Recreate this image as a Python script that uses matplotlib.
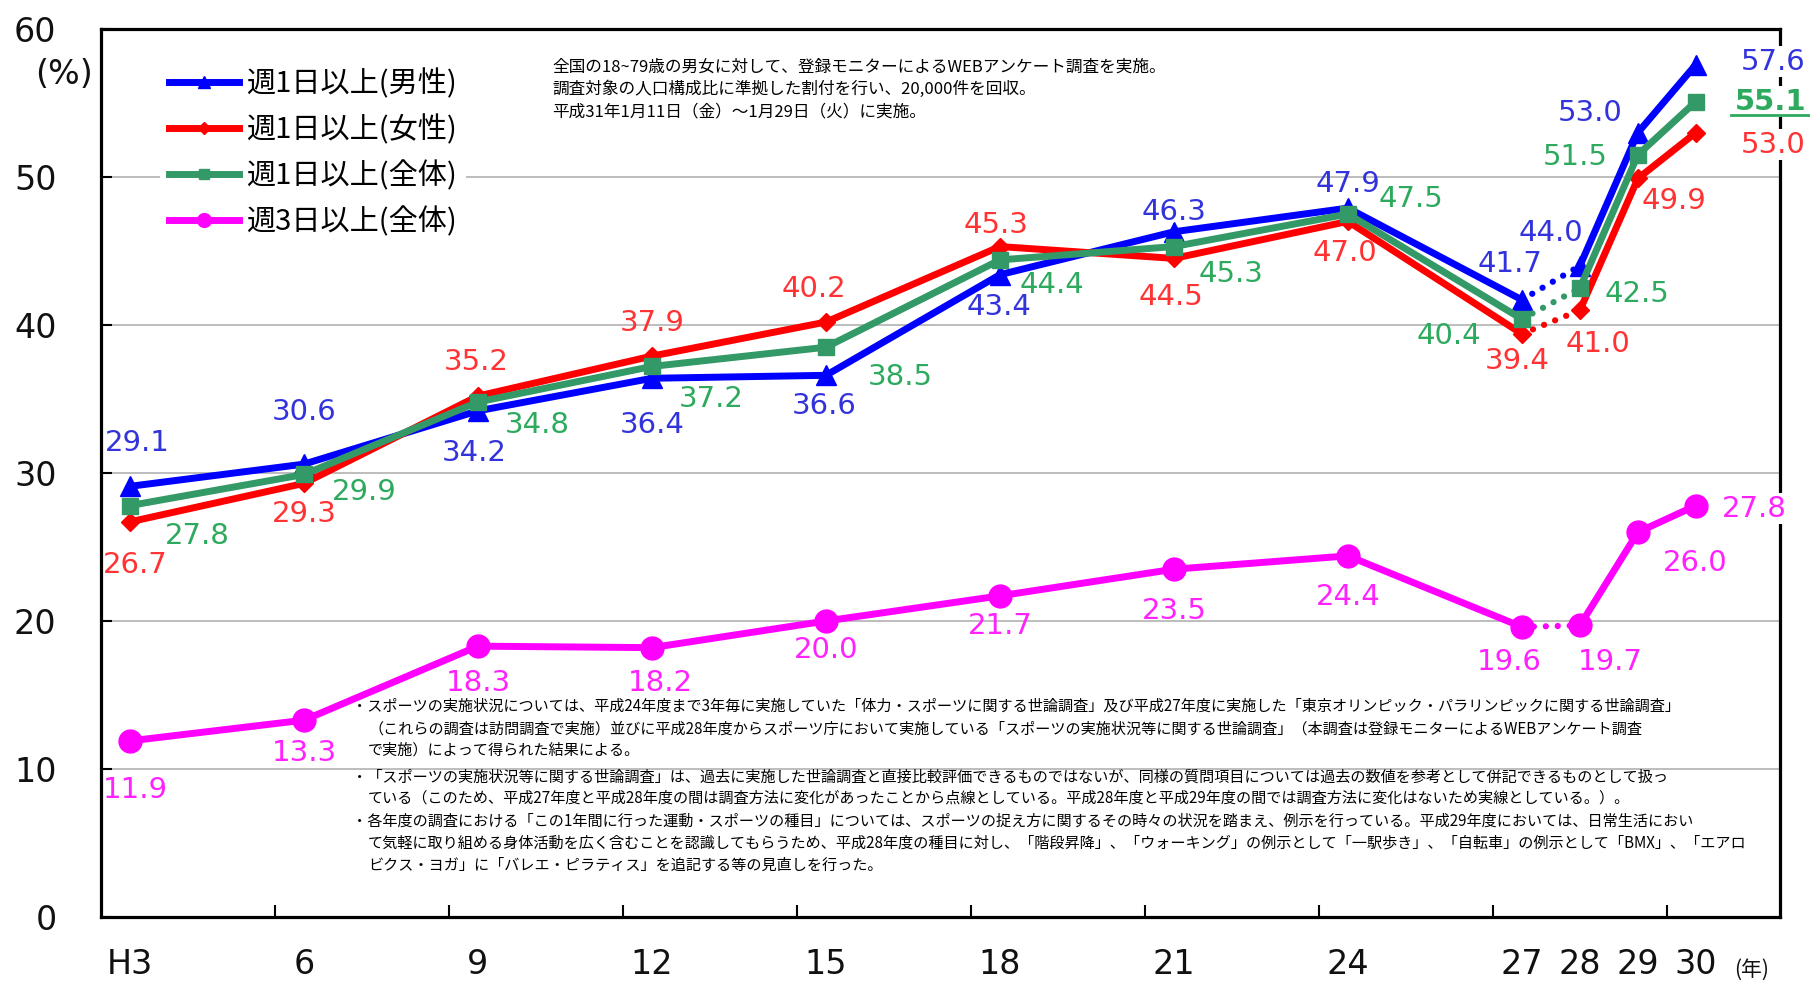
import matplotlib
matplotlib.use("Agg")
import matplotlib.pyplot as plt
from matplotlib.lines import Line2D
from matplotlib.transforms import IdentityTransform

JP = 'Noto Sans CJK JP'
plt.rcParams['font.family'] = ['DejaVu Sans', JP]

# ---------------- data ----------------
years = [3, 6, 9, 12, 15, 18, 21, 24, 27, 28, 29, 30]
year_labels = ['H3', '6', '9', '12', '15', '18', '21', '24', '27', '28', '29', '30']

male_weekly = [29.1, 30.6, 34.2, 36.4, 36.6, 43.4, 46.3, 47.9, 41.7, 44.0, 53.0, 57.6]
female_weekly = [26.7, 29.3, 35.2, 37.9, 40.2, 45.3, 44.5, 47.0, 39.4, 41.0, 49.9, 53.0]
total_weekly = [27.8, 29.9, 34.8, 37.2, 38.5, 44.4, 45.3, 47.5, 40.4, 42.5, 51.5, 55.1]
total_3days = [11.9, 13.3, 18.3, 18.2, 20.0, 21.7, 23.5, 24.4, 19.6, 19.7, 26.0, 27.8]

series_names = ['週1日以上(男性)', '週1日以上(女性)', '週1日以上(全体)', '週3日以上(全体)']

# survey method changed between H27 and H28 (index 8 -> 9): dotted there
BREAK = 8

note_lines = [
    '全国の18~79歳の男女に対して、登録モニターによるWEBアンケート調査を実施。',
    '調査対象の人口構成比に準拠した割付を行い、20,000件を回収。',
    '平成31年1月11日（金）～1月29日（火）に実施。',
]

footnote_lines = [
    '・スポーツの実施状況については、平成24年度まで3年毎に実施していた「体力・スポーツに関する世論調査」及び平成27年度に実施した「東京オリンピック・パラリンピックに関する世論調査」',
    '（これらの調査は訪問調査で実施）並びに平成28年度からスポーツ庁において実施している「スポーツの実施状況等に関する世論調査」（本調査は登録モニターによるWEBアンケート調査',
    'で実施）によって得られた結果による。',
    '・「スポーツの実施状況等に関する世論調査」は、過去に実施した世論調査と直接比較評価できるものではないが、同様の質問項目については過去の数値を参考として併記できるものとして扱っ',
    'ている（このため、平成27年度と平成28年度の間は調査方法に変化があったことから点線としている。平成28年度と平成29年度の間では調査方法に変化はないため実線としている。）。',
    '・各年度の調査における「この1年間に行った運動・スポーツの種目」については、スポーツの捉え方に関するその時々の状況を踏まえ、例示を行っている。平成29年度においては、日常生活におい',
    'て気軽に取り組める身体活動を広く含むことを認識してもらうため、平成28年度の種目に対し、「階段昇降」、「ウォーキング」の例示として「一駅歩き」、「自転車」の例示として「BMX」、「エアロ',
    'ビクス・ヨガ」に「バレエ・ピラティス」を追記する等の見直しを行った。',
]

# ---------------- layout (pixels) ----------------
W, H = 1810, 982

# value-label offsets from each point (pixels: right, up)
male_offsets = [(7, 43), (0, 52), (-4, -42), (0, -47), (-2, -31), (-1, -32),
                (0, 20), (0, 24), (-12, 36), (-29, 33), (-48, 20), (77, 3)]
female_offsets = [(5, -43), (0, -31), (-2, 34), (0, 33), (-12, 33), (-4, 22),
                  (-3, -39), (-3, -32), (-5, -27), (18, -34), (36, -23), (77, -12)]
total_offsets = [(67, -30), (60, -18), (59, -23), (59, -33), (74, -30), (52, -25),
                 (57, -27), (63, 15), (-73, -17), (57, -6), (-63, -2), (75, 0)]
days3_offsets = [(5, -49), (0, -33), (0, -37), (8, -35), (0, -29), (0, -30),
                 (0, -42), (0, -41), (-13, -35), (30, -37), (57, -31), (58, -3)]

styles = [
    # values, line colour, marker, marker size, label colour, offsets
    (male_weekly, '#0000FF', '^', 15, '#3333DD', male_offsets),
    (female_weekly, '#FF0000', 'D', 9.5, '#FF3333', female_offsets),
    (total_weekly, '#339966', 's', 11, '#2EAA5E', total_offsets),
    (total_3days, '#FF00FF', 'o', 16.5, '#FF22FF', days3_offsets),
]

fig = plt.figure(figsize=(W / 100, H / 100), dpi=100)
ax = fig.add_axes([101 / W, 65 / H, 1679 / W, 888 / H])
ax.set_xlim(2.5, 31.45)
ax.set_ylim(0, 60)

# axes frame, grid and ticks
for side in ['left', 'right', 'top', 'bottom']:
    ax.spines[side].set_linewidth(2.3)
    ax.spines[side].set_color('black')
ax.set_axisbelow(True)
ax.yaxis.grid(True, color='#BDBDBD', lw=1.4)

ax.set_yticks(range(0, 61, 10))
ax.tick_params(axis='y', direction='in', length=8, width=1.5, pad=32,
               labelsize=24, labelcolor='#111111')
ax.set_xticks(years)
ax.set_xticklabels(year_labels)
ax.tick_params(axis='x', which='major', length=0, pad=22, labelsize=24,
               labelcolor='#111111')
ax.set_xticks([y - 0.5 for y in years[1:9]] + [29.5], minor=True)
ax.tick_params(axis='x', which='minor', direction='in', length=8.5, width=1.5)

label_texts = {}
zorders = [3.0, 3.2, 3.4, 3.6]
for (vals, color, marker, ms, lcolor, offs), z in zip(styles, zorders):
    ax.plot(years[:BREAK + 1], vals[:BREAK + 1], color=color, lw=5,
            solid_joinstyle='round', solid_capstyle='round', zorder=z)
    ax.plot(years[BREAK + 1:], vals[BREAK + 1:], color=color, lw=5,
            solid_joinstyle='round', solid_capstyle='round', zorder=z)
    ax.plot(years[BREAK:BREAK + 2], vals[BREAK:BREAK + 2], color=color, lw=4.5,
            ls=(0, (0.01, 1.9)), dash_capstyle='round', zorder=z)
    ax.plot(years, vals, ls='none', marker=marker, ms=ms, color=color,
            mec=color, zorder=z + 0.1)
    for i, (x, v, (dx, dy)) in enumerate(zip(years, vals, offs)):
        last = i == len(years) - 1
        t = ax.annotate(f'{v:.1f}', xy=(x, v), xytext=(dx, dy),
                        textcoords='offset pixels', ha='center', va='center',
                        fontsize=21, color=lcolor, zorder=6,
                        fontweight='bold' if (last and vals is total_weekly) else 'normal',
                        bbox=dict(facecolor='white', edgecolor='none', pad=1) if last else None)
        if last:
            label_texts[color] = (t, lcolor)

# legend
handles = [Line2D([0], [0], color=c, lw=5, marker=m, ms=ms * 0.6, mec=c)
           for (_, c, m, ms, _, _) in styles]
ax.legend(handles, series_names, loc='upper left',
          bbox_to_anchor=(160 / W, 1 - 60 / H), bbox_transform=fig.transFigure,
          borderaxespad=0, borderpad=0.3, handlelength=2.4, handletextpad=0.25,
          labelspacing=0.54, prop={'family': JP, 'size': 21}, frameon=True,
          fancybox=False, framealpha=1, edgecolor='none', facecolor='white')

# axis unit labels
fig.text(64 / W, 1 - 74 / H, '(%)', fontsize=24, ha='center', va='center',
         color='#111111')
fig.text(1752 / W, 1 - 970 / H, '(年)', fontsize=15, ha='center', va='center',
         family=JP, color='#111111')

# survey description
for k, line in enumerate(note_lines):
    fig.text(552 / W, 1 - (67 + 22.5 * k) / H, line, fontsize=12.0, family=JP,
             ha='left', va='center', color='black')

# footnotes
foot_x = [352, 368, 368, 352, 368, 352, 368, 368]
foot_y = [706, 729, 750, 777, 798, 821, 843, 865]
for line, fx, fy in zip(footnote_lines, foot_x, foot_y):
    fig.text(fx / W, 1 - fy / H, line, fontsize=10.9, family=JP,
             ha='left', va='center', color='black')

# underline beneath the latest overall value
fig.canvas.draw()
renderer = fig.canvas.get_renderer()
t, lcolor = label_texts['#339966']
bb = t.get_window_extent(renderer)
cy = (bb.y0 + bb.y1) / 2
fig.add_artist(Line2D([bb.x0 - 4, bb.x1 + 4], [cy - 13, cy - 13],
                      transform=IdentityTransform(), color=lcolor, lw=2))

fig.savefig('out.png', dpi=100)
